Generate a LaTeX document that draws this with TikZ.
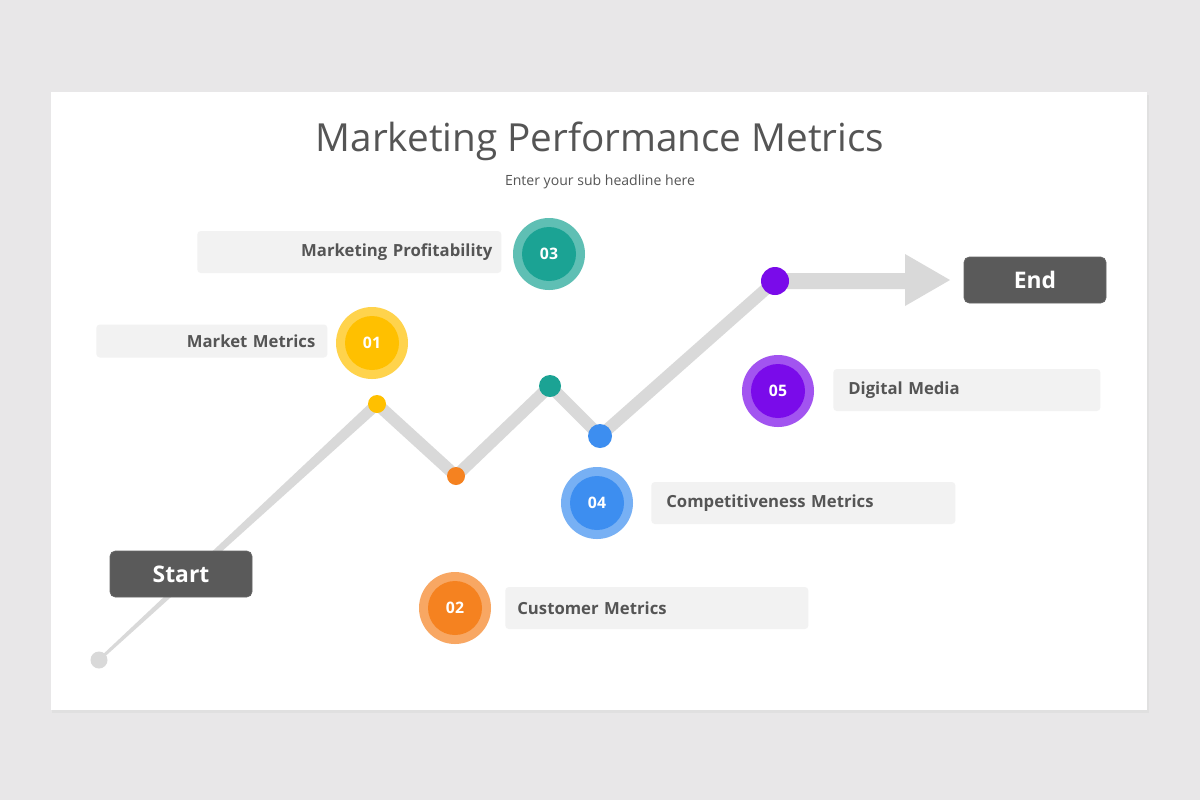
\documentclass[tikz,border=0pt]{standalone}
\usepackage{fontspec}
\setmainfont{Open Sans}
\usetikzlibrary{positioning}
\definecolor{pagebg}{HTML}{E8E7E8}
\definecolor{txtgray}{HTML}{555555}
\definecolor{track}{HTML}{D9D9D9}
\definecolor{boxgray}{HTML}{F2F2F2}
\definecolor{darkbox}{HTML}{5A5A5A}
\definecolor{cyel}{HTML}{FFC000}
\definecolor{cora}{HTML}{F58220}
\definecolor{ctea}{HTML}{1BA394}
\definecolor{cblu}{HTML}{3D8EF0}
\definecolor{cpur}{HTML}{7A0BEA}
\newcommand{\pxu}{*0.2mm}
\tikzset{
  dot/.style={circle, fill=#1, inner sep=0pt},
  badge/.style={circle, fill=#1!70!white, minimum size=72\pxu, inner sep=0pt,
    path picture={\fill[#1] (path picture bounding box.center) circle (27\pxu);},
    text=white, font=\bfseries\fontsize{9}{10}\selectfont},
  label box/.style={fill=boxgray, rounded corners=2pt, minimum height=42\pxu, inner ysep=0pt,
    text=txtgray, font=\bfseries\fontsize{9.5}{11}\selectfont},
  end box/.style={fill=darkbox, draw=black!60, rounded corners=3pt, minimum width=142\pxu,
    minimum height=46\pxu, text=white, font=\bfseries\fontsize{13}{15}\selectfont},
}
\begin{document}
\begin{tikzpicture}[x=0.2mm, y=-0.2mm]
	\fill[pagebg] (0,0) rectangle (1200,800);
	\fill[black!12] (52,95) rectangle (1149,713);
	\fill[white] (51,92) rectangle (1147,710);
	\node[text=txtgray, font=\fontsize{22}{26}\selectfont] (title) at (600,141) {Marketing Performance Metrics};
	\node[text=txtgray, font=\fontsize{8}{10}\selectfont] (sub) at (600,182) {Enter your sub headline here};

	% track
	\node[dot=track, minimum size=17\pxu] (s0) at (99,660) {};
	\coordinate (p1) at (377,404);
	\coordinate (p2) at (456,476);
	\coordinate (p3) at (550,386);
	\coordinate (p4) at (600,436);
	\coordinate (p5) at (775,281);
	\fill[track] (98,659) -- (100,661) -- (381,408) -- (373,400) -- cycle;
	\draw[track, line width=2.4mm] (p1) -- (p2) -- (p3) -- (p4) -- (p5);
	\fill[track] (p5) ++(0,-8) -- (905,273) -- (905,254) -- (950,280) -- (905,306) -- (905,289) -- (775,289) -- cycle;

	\node[dot=cyel, minimum size=18\pxu] (d1) at (p1) {};
	\node[dot=cora, minimum size=18\pxu] (d2) at (p2) {};
	\node[dot=ctea, minimum size=22\pxu] (d3) at (p3) {};
	\node[dot=cblu, minimum size=24\pxu] (d4) at (p4) {};
	\node[dot=cpur, minimum size=28\pxu] (d5) at (p5) {};

	% labels
	\node[label box, inner xsep=1.8mm, text width=286\pxu, align=right, anchor=west] (l3) at (197,252) {Marketing Profitability};
	\node[label box, inner xsep=2.4mm, text width=207\pxu, align=right, minimum height=33\pxu, anchor=west] (l1) at (96,341) {Market Metrics};
	\node[label box, inner xsep=3mm, text width=237\pxu, align=left, anchor=west] (l5) at (833,390) {Digital Media};
	\node[label box, inner xsep=3mm, text width=274\pxu, align=left, anchor=west] (l4) at (651,503) {Competitiveness Metrics};
	\node[label box, inner xsep=2.4mm, text width=279\pxu, align=left, anchor=west] (l2) at (505,608) {Customer Metrics};

	% badges
	\node[badge=cyel] (b1) at (372,343) {01};
	\node[badge=cora] (b2) at (455,608) {02};
	\node[badge=ctea] (b3) at (549,254) {03};
	\node[badge=cblu] (b4) at (597,503) {04};
	\node[badge=cpur] (b5) at (778,391) {05};

	\node[end box] (start) at (181,574) {Start};
	\node[end box] (end) at (1035,280) {End};
\end{tikzpicture}
\end{document}
